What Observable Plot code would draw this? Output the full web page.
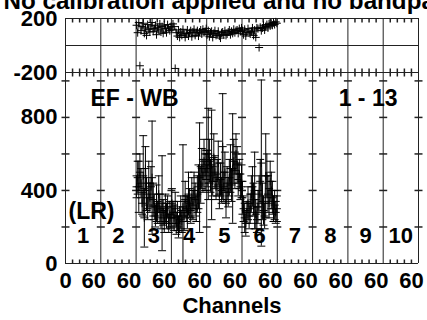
<!DOCTYPE html>
<html><head><meta charset="utf-8">
<script src="https://cdn.jsdelivr.net/npm/d3@7"></script>
<script src="https://cdn.jsdelivr.net/npm/@observablehq/plot@0.6"></script>
<style>
html,body{margin:0;padding:0;background:#fff;overflow:hidden;}
#chart{position:relative;width:427px;height:320px;}
#chart svg{position:absolute;left:0;top:0;}
</style></head><body><div id="chart"></div>
<script>
// ---- labels / categories ----
const title = "No calibration applied and no bandpass applied";
const baselineLabel = "EF - WB";
const timeLabel = "1 - 13";
const polLabel = "(LR)";
const xTitle = "Channels";
const ifLabels = ["1","2","3","4","5","6","7","8","9","10"];
const spanPerIF = 75;
const chanTicks = [15, 30, 45, 60];
const chanLabel = 60;
const ampTicks = [200, 400, 600, 800, 1000];
const ampLabels = [0, 400, 800];
const phaseLabels = [200, -200];

// ---- amplitude (value, error) per IF ----
const ampIF3 = [420,470,420,500,440,330,480,250,520,380,300,440,360,420,470,350,310,260,330,280,380,300,250,330,280,230,300,260,310,220,270,250];
const errIF3 = [60,90,140,100,80,60,220,160,120,90,60,120,80,110,310,90,70,60,100,60,100,80,60,260,70,60,80,70,60,50,70,60];
const ampIF4 = [330,280,250,300,220,260,200,240,280,230,310,260,350,300,280,380,330,290,360,320,400,350,300,380,420,470,430,520,480,560,500,540];
const errIF4 = [80,60,70,90,60,80,60,70,90,60,340,80,100,70,90,120,80,70,110,80,100,90,70,100,120,300,100,110,90,120,100,80];
const ampIF5 = [520,600,560,480,540,450,580,500,420,470,550,380,460,400,640,420,500,330,440,390,470,520,430,520,560,510,600,540,460,490,420,450];
const errIF5 = [100,250,120,90,300,80,130,90,70,100,120,80,90,70,290,80,110,80,90,80,100,130,90,300,120,100,110,100,90,80,70,90];
const ampIF6 = [360,300,250,220,280,330,260,300,380,420,350,400,270,240,310,380,450,550,340,290,260,480,480,380,330,450,400,360,300,320,280,300];
const errIF6 = [90,70,80,70,60,90,70,80,100,110,90,210,80,70,90,100,120,455,100,80,70,230,120,100,80,110,100,90,70,80,60,70];

// ---- phase (degrees) per IF ----
const phIF3 = [150,95,170,-150,110,140,165,90,130,75,155,120,100,145,170,105,125,150,80,135,115,160,100,140,90,150,125,95,155,130,110,140];
const phIF4 = [120,160,140,-170,95,70,115,60,100,75,120,85,60,90,115,70,95,110,65,100,120,75,95,110,70,100,115,85,120,95,105,125];
const phIF5 = [80,110,65,95,105,60,90,110,75,85,105,70,55,95,100,80,110,75,85,100,115,80,105,90,120,95,110,115,90,125,105,130];
const phIF6 = [110,80,120,70,100,125,95,85,105,130,75,115,60,130,125,-15,135,110,130,150,115,140,155,130,160,145,165,150,170,155,175,165];

const ampSets = [[3, ampIF3, errIF3], [4, ampIF4, errIF4], [5, ampIF5, errIF5], [6, ampIF6, errIF6]];
const phSets = [[3, phIF3], [4, phIF4], [5, phIF5], [6, phIF6]];

function chanX(ifNum, i, n) { return (ifNum - 1) * spanPerIF + 1 + i * (spanPerIF - 2) / (n - 1); }

const amp = [];
for (const [k, vals, errs] of ampSets) vals.forEach((v, i) => amp.push({if: k, x: chanX(k, i, vals.length), v, lo: Math.max(0, v - errs[i]), hi: v + errs[i]}));
const ph = [];
for (const [k, vals] of phSets) vals.forEach((v, i) => ph.push({if: k, x: chanX(k, i, vals.length), v}));

const bounds = d3.range(ifLabels.length + 1).map(i => i * spanPerIF);
const minor = [];
ifLabels.forEach((_, i) => chanTicks.forEach(t => minor.push(i * spanPerIF + t)));
const yTicksOnBounds = [];
bounds.forEach(b => ampTicks.forEach(t => yTicksOnBounds.push({x: b, y: t})));
const xLab = [{x: 0, t: "0"}].concat(ifLabels.map((_, i) => ({x: i * spanPerIF + chanLabel, t: String(chanLabel)})));

// ---- custom thin symbols ----
const plusSym = {draw(c) { c.moveTo(-4, 0); c.lineTo(4, 0); c.moveTo(0, -4); c.lineTo(0, 4); }};
const capSym = {draw(c) { c.moveTo(-4, 0); c.lineTo(4, 0); }};
const hTick = {draw(c) { c.moveTo(-4, 0); c.lineTo(4, 0); }};
const upTick = {draw(c) { c.moveTo(0, 0); c.lineTo(0, -4); }};
const downTick = {draw(c) { c.moveTo(0, 0); c.lineTo(0, 4); }};
const vTick = {draw(c) { c.moveTo(0, -4); c.lineTo(0, 4); }};

const font = "'Liberation Sans', Arial, Helvetica, sans-serif";
const LC = "#222";
const common = {
  width: 427, height: 320, marginLeft: 65, marginRight: 9,
  x: {domain: [0, spanPerIF * ifLabels.length], axis: null},
};

const ampPlot = Plot.plot({
  ...common,
  marginTop: 72, marginBottom: 57,
  y: {domain: [0, 1046], axis: null},
  style: {fontFamily: font, fontWeight: "bold", background: "white", overflow: "hidden"},
  marks: [
    Plot.ruleX(bounds, {stroke: LC, strokeWidth: 1}),
    Plot.ruleY([0], {stroke: LC, strokeWidth: 1}),
    Plot.dot(minor, {x: d => d, y: () => 0, symbol: upTick, r: 3, fill: "none", stroke: LC}),
    Plot.dot(yTicksOnBounds, {x: "x", y: "y", symbol: hTick, r: 3, fill: "none", stroke: LC}),
    Plot.text([title], {text: d => d, frameAnchor: "top-left", textAnchor: "start", lineAnchor: "bottom", dx: -62, dy: -64, fontSize: 24.2, fill: "black"}),
    Plot.text([baselineLabel], {text: d => d, frameAnchor: "top-left", textAnchor: "start", lineAnchor: "bottom", dx: 25, dy: 33, fontSize: 23, fill: "black"}),
    Plot.text([timeLabel], {text: d => d, frameAnchor: "top-right", textAnchor: "end", lineAnchor: "bottom", dx: -21, dy: 33, fontSize: 23, fill: "black"}),
    Plot.text([polLabel], {text: d => d, frameAnchor: "top-left", textAnchor: "start", lineAnchor: "bottom", dx: 3, dy: 146, fontSize: 23, fill: "black"}),
    Plot.text(ifLabels, {x: (d, i) => i * spanPerIF + spanPerIF / 2, text: d => d, frameAnchor: "bottom", lineAnchor: "bottom", dy: -21, fontSize: 22, fill: "black"}),
    Plot.text(ampLabels, {y: d => d, text: d => String(d), frameAnchor: "left", textAnchor: "end", dx: -8, fontSize: 22, fill: "black"}),
    Plot.text(xLab, {x: "x", text: "t", frameAnchor: "bottom", lineAnchor: "bottom", dy: 24, fontSize: 22, fill: "black"}),
    Plot.text([xTitle], {text: d => d, frameAnchor: "bottom", lineAnchor: "bottom", dx: -10, dy: 49, fontSize: 22, fill: "black"}),
    Plot.line(amp, {x: "x", y: "v", z: "if", stroke: "#808080", strokeWidth: 1.6}),
    Plot.ruleX(amp, {x: "x", y1: "lo", y2: "hi", stroke: "black", strokeWidth: 1}),
    Plot.dot(amp, {x: "x", y: "hi", symbol: capSym, r: 3, fill: "none", stroke: "black", strokeWidth: 1}),
    Plot.dot(amp, {x: "x", y: "lo", symbol: capSym, r: 3, fill: "none", stroke: "black", strokeWidth: 1}),
    Plot.dot(amp, {x: "x", y: "v", symbol: plusSym, r: 3, fill: "none", stroke: "black", strokeWidth: 1})
  ]
});

const phPlot = Plot.plot({
  ...common,
  marginTop: 18, marginBottom: 248,
  y: {domain: [-200, 200], axis: null},
  style: {fontFamily: font, fontWeight: "bold", background: "transparent", overflow: "visible"},
  marks: [
    Plot.ruleX(bounds, {stroke: LC, strokeWidth: 1}),
    Plot.ruleY([-200, 0, 200], {stroke: LC, strokeWidth: 1}),
    Plot.dot(minor, {x: d => d, y: () => 200, symbol: downTick, r: 3, fill: "none", stroke: LC}),
    Plot.dot(minor, {x: d => d, y: () => -200, symbol: vTick, r: 3, fill: "none", stroke: LC}),
    Plot.text(phaseLabels, {y: d => d, text: d => String(d), frameAnchor: "left", textAnchor: "end", dx: -8, fontSize: 22, fill: "black"}),
    Plot.line(ph.filter(d => d.v > 0), {x: "x", y: "v", z: "if", stroke: "#808080", strokeWidth: 1.6}),
    Plot.dot(ph, {x: "x", y: "v", symbol: plusSym, r: 3, fill: "none", stroke: "black", strokeWidth: 1})
  ]
});

const chart = document.getElementById("chart");
chart.appendChild(ampPlot);
chart.appendChild(phPlot);
</script></body></html>
